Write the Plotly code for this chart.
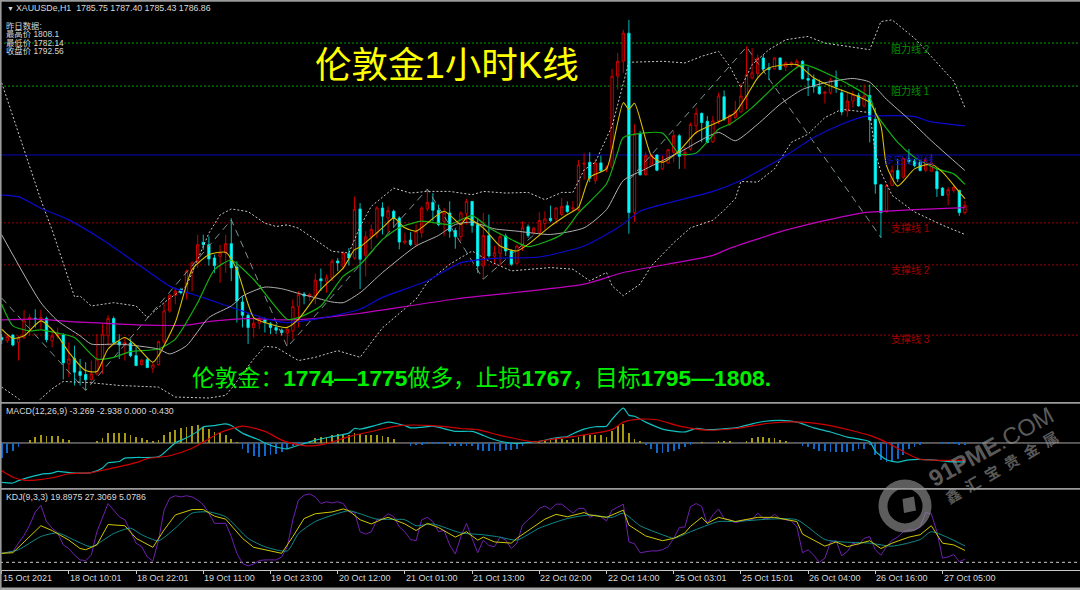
import plotly.graph_objects as go

# ---------- candles (one value per hourly bar) ----------
bar_index = list(range(173))
open_prices = [1719.1,1718.1,1719.8,1717.6,1719.1,1724.6,1724.9,1724.4,1724.8,1718.1,1719.5,1719.8,1711.1,1712.8,1708.8,1707.9,1706.4,1708.1,1712.6,1719.6,
 1724.8,1717.8,1716.8,1717.4,1713.6,1710.9,1712.4,1709.8,1710.9,1717.8,1727.1,1731.8,1733.6,1732.6,1738.8,1741.6,1747.8,1747.1,1743.1,1743.6,
 1744.6,1747.4,1740.4,1729.8,1725.8,1722.1,1723.4,1724.4,1723.2,1722.1,1721.3,1720.4,1721.1,1728.4,1732.2,1731.4,1731.6,1736.8,1736.1,1737.1,
 1742.2,1740.4,1744.4,1743.1,1757.9,1743.9,1749.5,1750.7,1758.2,1755.2,1757.2,1755.2,1747.7,1748.5,1747.2,1750.7,1757.9,1759.9,1757.5,1754.2,
 1756.7,1751.4,1749.5,1756.5,1760.2,1753.2,1740.7,1749.9,1743.7,1744.5,1749.7,1745.2,1741.5,1746.7,1752.5,1750.7,1750.7,1753.5,1755.1,1754.9,
 1756.2,1758.9,1757.9,1757.7,1771.4,1772.0,1766.5,1771.8,1769.8,1770.5,1798.0,1802.5,1811.0,1756.8,1780.5,1768.2,1771.2,1774.2,1770.0,1771.8,
 1775.0,1780.0,1774.0,1776.0,1783.0,1786.8,1784.4,1778.2,1784.5,1791.8,1783.5,1785.5,1787.2,1791.8,1797.5,1798.8,1803.5,1800.5,1800.2,1803.5,
 1800.8,1801.5,1801.2,1802.5,1797.3,1797.0,1794.8,1792.8,1793.0,1796.7,1793.0,1787.5,1790.5,1792.2,1789.0,1792.2,1785.0,1765.2,1757.2,1765.0,
 1769.5,1767.5,1773.0,1772.4,1772.0,1769.6,1769.3,1769.2,1764.2,1762.2,1763.5,1763.5,1756.8]
high_prices = [1720.1,1720.1,1720.1,1719.6,1727.4,1726.1,1727.6,1727.4,1725.4,1721.1,1722.1,1720.4,1717.6,1716.6,1712.6,1711.6,1712.1,1720.1,1723.1,1725.8,
 1725.4,1720.1,1719.1,1718.6,1716.6,1712.6,1713.1,1711.6,1718.1,1729.6,1732.4,1734.1,1734.1,1739.6,1742.1,1750.1,1750.1,1749.6,1744.1,1747.1,
 1750.1,1755.1,1742.1,1731.6,1726.4,1725.1,1725.6,1725.1,1723.8,1723.1,1721.8,1722.6,1730.6,1733.1,1732.8,1732.6,1738.4,1739.9,1738.1,1742.8,
 1743.1,1745.1,1746.1,1761.6,1759.7,1751.2,1753.2,1758.7,1759.9,1758.7,1757.7,1755.7,1750.7,1750.9,1753.2,1758.7,1763.9,1762.7,1759.2,1758.2,
 1760.2,1752.2,1757.2,1760.9,1760.2,1755.2,1756.7,1756.2,1746.7,1750.2,1750.5,1745.7,1747.2,1754.2,1753.2,1752.5,1756.9,1757.2,1758.9,1758.5,
 1761.2,1760.2,1760.2,1772.7,1774.7,1775.0,1773.0,1774.0,1771.0,1800.2,1805.0,1812.0,1815.0,1783.5,1781.5,1775.0,1774.5,1774.5,1774.0,1776.0,
 1781.5,1780.5,1776.5,1784.0,1788.5,1787.0,1786.0,1786.0,1793.0,1793.7,1786.5,1790.5,1795.8,1807.0,1806.5,1804.5,1804.5,1802.0,1803.7,1803.7,
 1802.5,1802.5,1803.2,1802.8,1800.8,1798.5,1797.0,1793.5,1797.5,1799.7,1794.0,1793.0,1793.5,1793.0,1795.5,1795.5,1788.5,1765.5,1765.5,1771.0,
 1773.0,1773.5,1776.0,1773.0,1772.5,1773.5,1774.5,1770.0,1764.5,1764.5,1765.0,1763.7,1760.4]
low_prices = [1717.1,1717.4,1716.4,1712.1,1718.6,1719.6,1722.1,1721.6,1717.6,1716.1,1718.6,1706.4,1707.1,1704.6,1704.6,1703.1,1705.1,1707.6,1708.1,1716.6,
 1717.1,1712.6,1712.1,1713.1,1710.4,1710.6,1709.8,1708.4,1710.6,1717.1,1726.6,1729.1,1732.1,1730.6,1733.1,1740.1,1745.6,1740.8,1738.6,1735.6,
 1738.6,1736.1,1723.6,1722.1,1717.1,1719.1,1721.6,1720.6,1720.1,1720.1,1719.6,1716.6,1718.6,1722.1,1729.1,1730.1,1729.1,1733.1,1732.6,1736.1,
 1739.1,1739.6,1740.8,1742.6,1733.7,1737.5,1745.7,1749.2,1750.2,1750.7,1752.2,1745.7,1747.2,1746.7,1746.7,1749.2,1757.2,1754.2,1752.7,1749.7,
 1749.2,1745.9,1748.2,1753.2,1750.7,1738.5,1736.9,1743.2,1741.2,1740.9,1743.7,1740.7,1741.2,1745.2,1749.2,1749.9,1750.2,1751.7,1753.9,1753.5,
 1755.7,1756.7,1757.2,1757.2,1766.7,1766.0,1765.5,1769.0,1769.0,1770.0,1794.0,1799.0,1750.4,1754.0,1768.0,1768.0,1771.0,1769.3,1769.7,1771.5,
 1772.0,1770.0,1770.0,1775.5,1780.5,1778.0,1777.7,1777.8,1783.5,1784.5,1783.0,1785.0,1787.0,1788.0,1797.0,1797.5,1799.5,1796.8,1800.0,1799.8,
 1799.5,1800.8,1800.5,1797.0,1792.0,1793.0,1792.4,1789.8,1792.5,1793.0,1786.2,1785.8,1788.5,1788.8,1788.5,1778.0,1762.5,1749.2,1756.8,1765.0,
 1766.0,1767.0,1771.5,1770.5,1769.2,1769.0,1769.2,1761.5,1761.8,1759.0,1762.8,1755.8,1756.2]
close_prices = [1718.4,1719.4,1716.8,1718.9,1724.1,1725.1,1724.7,1725.1,1718.4,1719.6,1720.1,1711.4,1712.6,1708.6,1707.6,1706.3,1708.1,1712.6,1720.1,1724.8,
 1717.6,1716.8,1717.6,1713.6,1710.6,1712.2,1710.0,1710.8,1717.8,1727.1,1731.8,1733.1,1732.6,1739.1,1741.6,1747.1,1747.1,1742.8,1740.8,1744.6,
 1747.4,1740.1,1730.1,1725.8,1722.1,1723.4,1724.6,1723.6,1722.1,1721.3,1720.6,1721.6,1728.4,1732.0,1731.6,1732.1,1736.4,1736.2,1737.1,1742.1,
 1741.6,1744.6,1743.1,1757.8,1742.7,1749.5,1751.7,1758.2,1755.7,1757.4,1755.0,1747.9,1748.2,1747.2,1751.2,1758.2,1759.9,1757.5,1753.2,1756.7,
 1751.2,1749.5,1756.7,1760.2,1752.9,1740.7,1749.9,1743.7,1744.7,1749.5,1745.2,1741.2,1746.7,1752.2,1749.9,1752.1,1754.4,1754.9,1754.4,1758.2,
 1758.7,1757.1,1758.2,1771.2,1771.7,1767.2,1771.8,1769.5,1770.5,1798.0,1802.5,1811.0,1756.8,1780.5,1768.2,1774.0,1774.2,1769.6,1772.2,1775.8,
 1780.0,1773.8,1775.0,1783.4,1786.8,1784.0,1778.0,1784.5,1792.0,1785.0,1786.2,1787.5,1792.0,1798.4,1799.0,1803.5,1800.2,1800.0,1803.5,1800.0,
 1802.0,1802.0,1802.5,1797.2,1796.8,1794.8,1792.7,1793.2,1796.8,1794.8,1787.2,1790.5,1792.5,1789.0,1792.0,1784.8,1765.4,1756.8,1765.0,1769.5,
 1767.0,1773.2,1772.2,1771.0,1769.5,1772.8,1771.8,1764.0,1762.0,1763.7,1764.5,1756.8,1759.0]

# ---------- moving averages and bands ----------
magenta_bars = [0,6,12,18,24,33,38,44,50,56,59,64,81,104,111,127,130,140,150,154,163,172]
magenta_vals = [1724.4,1724.6,1723.9,1723.4,1722.9,1722.8,1724.1,1724.8,1724.4,1724.8,1725.4,1726.4,1730.7,1735.2,1738.7,1743.9,1746,1751.5,1755.5,1756.8,1757.7,1758.3]
blue_bars = [0,3,7,12,18,24,30,36,42,48,51,56,64,68,76,82,88,96,104,110,114,119,127,132,140,145,150,154,156,163,166,172]
blue_vals = [1762.1,1761.6,1758.1,1754.6,1748.6,1741.6,1734.6,1731.1,1727.6,1724.4,1723.6,1724.6,1727.6,1731.2,1736.2,1741.7,1743,1743.4,1746.7,1752.2,1757.2,1759.7,1763.2,1766.5,1774,1779.5,1783.5,1785.8,1786,1785.8,1784.2,1783]
gray_bars = [0,7,10,14,16,21,28,30,33,37,41,43,47,50,53,56,59,61,64,68,74,78,81,84,88,92,98,104,108,111,115,121,128,131,135,139,143,147,152,155,158,162,166,172]
gray_vals = [1750.1,1729.6,1724.1,1719.6,1717.1,1717.1,1715.6,1714.1,1716.6,1725.1,1728.6,1731.6,1734.3,1733.8,1732.4,1731.1,1729.8,1729.6,1732.6,1738.7,1746.7,1749.9,1753.2,1753.9,1751.9,1751.2,1750.2,1752.2,1757.7,1766.5,1770,1775,1781,1778.5,1783.5,1789.5,1794,1796,1797.3,1796.2,1791,1785,1778.5,1769.5]
green_bars = [0,2,5,7,10,13,17,20,23,28,31,35,38,41,45,51,53,57,61,64,68,71,75,80,84,87,91,94,100,103,108,110,111,118,121,124,128,130,134,139,143,149,155,156,160,163,167,170,172]
green_vals = [1729.1,1722.6,1721.1,1721.4,1720.4,1719.1,1712.6,1713.1,1714.8,1715.6,1718.6,1729.6,1739.6,1742.4,1736.6,1724.6,1725.1,1728.6,1737.6,1741.1,1748.7,1752.2,1754.2,1753.2,1755.9,1752.2,1748.7,1746.5,1750.2,1756.7,1765.5,1775,1779.5,1780.8,1774.5,1774.8,1782,1783.5,1788.5,1796.5,1801.5,1797.5,1791.5,1787,1778,1773.5,1770,1768.5,1765.3]
yellow_bars = [0,2,4,7,10,12,15,17,19,22,24,27,28,31,34,37,40,42,45,47,51,53,57,61,63,64,68,70,72,74,79,82,83,86,89,92,94,98,101,103,105,108,109,111,112,113,116,118,121,124,129,131,133,135,137,142,145,148,152,155,157,158,160,163,166,168,171,172]
yellow_vals = [1721.6,1718.8,1719.6,1724.1,1719.6,1714.6,1709.1,1708.8,1715.6,1719.1,1716.6,1711.6,1713.6,1723.6,1739.6,1744.1,1744.8,1739.6,1725.1,1723.6,1722.1,1724.6,1733.6,1740.1,1745.6,1746.4,1752.2,1755.2,1752.2,1751.2,1757.2,1753.2,1755.2,1752.2,1746.7,1745.2,1747.2,1752.7,1756.2,1758.4,1767.5,1770,1776,1790,1788,1789.8,1774,1772,1775.5,1781,1785,1787,1792,1797.5,1800.5,1801.5,1797.5,1795,1792.5,1790,1783,1771,1764.8,1770,1771.5,1769,1763,1761]
upper_bars = [0,7,9,11,13,14,16,20,24,26,29,33,37,39,41,44,47,49,51,53,59,62,64,66,70,73,76,80,84,86,90,94,97,100,102,104,106,109,112,118,122,125,128,130,132,134,137,140,144,147,151,155,157,159,163,167,170,172]
upper_vals = [1796,1760.6,1751.6,1741.6,1731.4,1731.6,1728.6,1729.6,1728.6,1725.1,1729.6,1734.6,1750.6,1756.1,1757.9,1757.1,1753.6,1752.6,1753.1,1752.1,1745.1,1744.6,1752.6,1758.7,1764.2,1762.7,1763.2,1763.2,1762.2,1763.2,1762.7,1762.9,1760.7,1762.9,1762.9,1769.7,1772,1783,1802.2,1802.5,1802,1804,1805.5,1801,1794.5,1801.5,1806,1809,1810,1808,1807,1806,1814.5,1815,1809.5,1802,1796.5,1788.5]
lower_bars = [0,3,5,7,9,11,16,21,28,31,37,40,41,45,47,49,53,56,60,64,68,74,76,80,84,87,91,98,102,105,108,109,111,114,116,120,123,127,129,131,132,135,138,141,144,147,150,155,156,157,159,163,168,172]
lower_vals = [1704.1,1700.6,1697,1700.6,1703.6,1705.8,1705.4,1704.6,1704.1,1701.1,1700.8,1701.6,1703.6,1712.6,1716.4,1716.1,1712.1,1713.1,1715.1,1713.1,1722,1730.7,1735.7,1741.2,1745.2,1742.2,1739.2,1740.2,1739.7,1736.2,1738.7,1734.7,1731.7,1735.2,1740.7,1747.7,1752.2,1754.5,1757.5,1761,1766.2,1766,1770,1778,1780.5,1785.5,1788,1787,1775,1769,1762,1757,1753,1750.2]
zigzag_bars = [0,15,41,51,76,86,95,None,112,133,157]
zigzag_vals = [1731,1703.1,1754.6,1716.2,1763.9,1736.7,1750,None,1766.6,1806.8,1749.3]

# ---------- horizontal levels ----------
resistance_levels = [1808, 1795]
pivot_level = 1774.2
support_levels = [1753.7, 1741, 1719.8]
resistance_labels = ["阻力线 2", "阻力线 1"]
pivot_label = "多空分界线"
support_labels = ["支撑线 1", "支撑线 2", "支撑线 3"]

# ---------- MACD ----------
macd_hist = [-2.6,-1.8,-1.3,-0.7,0,0.5,1.0,1.3,1.2,1.2,1.2,0.7,0.5,0,0,0,0,0.2,0.9,1.7,
 1.8,1.8,1.8,1.4,1.1,0.8,0.5,0.3,0.5,1.3,1.9,2.3,2.5,2.8,3.0,3.1,2.8,2.4,1.9,1.7,
 1.3,0.7,0.1,-1.1,-1.8,-2.2,-2.4,-2.3,-2.0,-1.9,-1.6,-1.1,-0.5,-0.3,-0.2,0.4,0.8,1.0,1.1,1.3,
 1.5,1.6,1.3,1.8,1.5,1.3,1.3,1.3,1.2,1.0,0.7,0,0,-0.5,-0.4,-0.3,-0.1,-0.05,-0.2,-0.2,
 -0.5,-0.6,-0.6,-0.5,-0.6,-1.2,-1.3,-1.3,-1.4,-1.3,-1.2,-1.2,-1.0,-0.5,0,0,0.3,0.5,0.5,0.9,
 0.7,0.6,0.7,1.1,1.4,1.4,1.3,1.3,1.0,2.1,2.9,3.3,1.7,0.7,0.2,-0.4,-1.1,-1.7,-1.8,-1.6,
 -1.3,-1.0,-0.7,-0.3,0,0.1,0,0,0.3,0.2,0.2,0,0,0.2,0.8,1.1,1.0,0.9,0.9,0.5,
 0.2,0,0,-0.5,-0.7,-1.0,-1.3,-1.4,-1.5,-1.5,-1.6,-1.6,-1.4,-1.1,-1.1,-0.3,-2.0,-2.9,-3.3,-3.2,
 -2.8,-2.0,-1.1,-0.7,-0.3,0,0,0,-0.1,-0.1,-0.2,-0.3,-0.43]
macd_bars = [0,2,3,5,7,9,10,12,14,16,18,19,21,22,24,28,29,31,33,35,36,38,40,41,43,46,47,49,51,52,54,56,59,62,63,64,67,69,72,73,75,77,81,84,86,87,89,92,94,96,99,101,102,104,106,108,109,111,112,113,115,118,122,124,126,131,134,136,139,142,145,148,151,155,156,158,160,162,166,169,172]
macd_vals = [-6.8,-6.9,-6.5,-5.9,-5.4,-5.2,-4.9,-5.1,-5.2,-5.1,-4.3,-3.4,-3.2,-2.6,-2.5,-2.4,-1.7,0,0.9,2.0,2.8,3.0,3.3,3.0,1.7,0.5,0,-0.7,-1.0,-0.7,-0.1,0.5,1.1,1.7,2.5,2.4,3.1,3.6,3.0,2.6,2.7,2.9,2.0,2.0,1.3,0.9,0.3,-0.1,0.1,0.3,0.9,1.1,1.6,2.4,2.8,2.9,4.1,6.0,4.8,4.6,3.6,2.4,1.9,2.5,2.3,2.6,3.3,3.7,3.9,3.6,2.6,1.9,1.0,0.2,-1.4,-2.9,-3.3,-2.9,-2.9,-3.2,-3.27]
signal_bars = [0,2,4,6,9,12,16,19,24,26,30,34,37,39,43,47,50,52,55,58,62,67,71,77,82,85,89,91,95,98,102,109,111,114,117,121,126,131,137,143,148,155,158,162,164,169,172]
signal_vals = [-4.8,-5.9,-6.4,-6.4,-6.0,-5.3,-5.1,-4.5,-3.4,-2.7,-2.2,-0.9,0.7,1.8,2.9,2.0,0.5,-0.1,-0.5,-0.1,1.1,2.2,3.0,3.0,2.5,2.3,1.3,0.9,0.2,0.6,1.1,2.3,3.6,4.1,4.0,2.9,2.2,2.5,3.4,3.6,3.0,1.3,0.1,-2.0,-2.8,-3.0,-2.94]

# ---------- KDJ ----------
j_vals = [15,16,18,32,45,62,84,95,68,57,49,29,23,12,4,3,12,51,76,98,87,76,71,51,32,26,9,2,37,87,107,111,109,111,109,104,96,82,65,65,
 65,43,15,-2,-6,-3,3,4,4,4,9,26,71,104,112,114,109,98,101,99,101,98,84,84,51,47,51,71,73,81,
 76,59,51,38,36,71,75,68,51,53,29,14,43,65,40,16,37,28,26,42,37,23,32,62,71,79,90,94,88,97,
 97,90,82,90,90,75,79,76,69,87,92,97,34,31,16,18,19,19,21,26,40,58,59,93,98,93,64,79,89,73,
 71,66,69,71,71,82,73,73,80,73,71,69,59,16,21,12,0,7,34,36,11,18,32,29,40,43,21,12,26,37,
 42,51,54,54,59,83,81,51,7,9,13,1,5.08]
k_bars = [0,2,4,5,7,9,10,12,14,15,17,19,22,24,27,29,31,34,36,38,40,43,45,48,50,52,54,56,59,61,62,64,66,68,69,72,74,76,78,81,83,85,86,88,91,92,97,99,101,104,105,108,111,112,115,118,120,122,123,125,126,128,131,135,138,142,143,145,147,149,151,153,155,157,159,162,164,166,168,170,172]
k_vals = [15,16,34,43,61,53,48,37,23,21,29,63,61,40,25,54,79,88,88,77,72,40,25,19,15,43,73,81,84,89,86,71,64,72,75,64,53,65,58,42,51,37,42,34,32,40,72,80,76,83,79,75,87,62,44,36,40,49,60,75,65,75,68,75,75,68,47,37,27,34,26,31,36,23,32,42,46,61,32,29,19.9]
d_bars = [0,3,7,10,13,16,20,23,25,28,31,34,37,40,44,47,51,53,56,62,64,67,72,74,77,82,86,89,92,96,101,105,109,111,114,118,120,123,128,131,137,142,147,150,155,159,164,166,172]
d_vals = [15,21,43,49,37,26,48,57,46,36,57,82,84,76,40,26,19,48,68,86,81,72,71,61,64,49,46,42,37,57,73,79,75,82,61,46,40,51,68,68,72,71,38,34,32,27,38,51,27.3]
kdj_level = 0

# ---------- text ----------
tick_bars = [0,12,24,36,48,60,72,84,96,108,120,132,144,156,168]
tick_labels = ["15 Oct 2021","18 Oct 10:01","18 Oct 22:01","19 Oct 11:00","19 Oct 23:00","20 Oct 12:00","21 Oct 01:00","21 Oct 13:00",
               "22 Oct 02:00","22 Oct 14:00","25 Oct 03:01","25 Oct 15:01","26 Oct 04:00","26 Oct 16:00","27 Oct 05:00"]
title_text = "伦敦金1小时K线"
plan_text = "伦敦金：<b>1774—1775</b>做多，止损<b>1767</b>，目标<b>1795—1808.</b>"
header_text = "XAUUSDe,H1  1785.75 1787.40 1785.43 1786.86"
prev_day_lines = ["昨日数据:", "最高价 1808.1", "最低价 1782.14", "收盘价 1792.56"]
macd_text = "MACD(12,26,9) -3.269 -2.938 0.000 -0.430"
kdj_text = "KDJ(9,3,3) 19.8975 27.3069 5.0786"
brand_text = "<b>91PME</b>.COM"
brand_cn_text = "<b>鑫\u2002汇\u2002宝\u2002贵\u2002金\u2002属</b>"

W, H = 1080, 590
def px(x): return x / W
def py(y): return 1 - y / H
UI_FONT = "Liberation Sans, Noto Sans CJK SC"
CJK_FONT = "Liberation Sans, Noto Sans CJK SC"
LIGHT = "#d8d8d8"
WATERMARK = "rgba(150,150,150,0.62)"

fig = go.Figure()
fig.add_trace(go.Candlestick(
    x=bar_index, open=open_prices, high=high_prices, low=low_prices, close=close_prices,
    increasing=dict(line=dict(color="#c80000", width=1), fillcolor="#000000"),
    decreasing=dict(line=dict(color="#00e8e8", width=0.8), fillcolor="#00ffff"),
    whiskerwidth=0, xaxis="x", yaxis="y", showlegend=False))

def line(xs, ys, color, width=1, dash="solid", shape="spline", xa="x", ya="y"):
    fig.add_trace(go.Scatter(x=xs, y=ys, mode="lines", xaxis=xa, yaxis=ya, showlegend=False,
                             connectgaps=False, hoverinfo="skip",
                             line=dict(color=color, width=width, dash=dash, shape=shape,
                                       **({"smoothing": 0.6} if shape == "spline" else {}))))

line(zigzag_bars, zigzag_vals, "#7f9292", 1, "7px,5px", "linear")
line(upper_bars, upper_vals, "#c8c8c8", 1, "2px,2px", "linear")
line(lower_bars, lower_vals, "#c8c8c8", 1, "2px,2px", "linear")
line(magenta_bars, magenta_vals, "#c000c0", 1.2)
line(blue_bars, blue_vals, "#0a0ad0", 1.2)
line(gray_bars, gray_vals, "#b0b0b0", 1)
line(green_bars, green_vals, "#14b014", 1.2)
line(yellow_bars, yellow_vals, "#d8c000", 1.1)

fig.add_trace(go.Bar(x=bar_index, y=macd_hist, width=0.16, xaxis="x2", yaxis="y2", showlegend=False,
                     hoverinfo="skip",
                     marker=dict(color=["#a89a10" if v >= 0 else "#1068c8" for v in macd_hist], line=dict(width=0))))
line(macd_bars, macd_vals, "#10c0c0", 1.2, xa="x2", ya="y2")
line(signal_bars, signal_vals, "#d00000", 1.2, xa="x2", ya="y2")

line(bar_index, j_vals, "#7020b0", 1, shape="linear", xa="x3", ya="y3")
line(d_bars, d_vals, "#108a8a", 1, xa="x3", ya="y3")
line(k_bars, k_vals, "#d0c800", 1, shape="linear", xa="x3", ya="y3")

shapes = []
def hline(level, color, dash, ya="y", width=1):
    shapes.append(dict(type="line", xref="paper", x0=0, x1=1, yref=ya, y0=level, y1=level,
                       line=dict(color=color, width=width, dash=dash), layer="below"))
for lv in resistance_levels:
    hline(lv, "#00a000", "2px,2px")
hline(pivot_level, "#0808b8", "solid")
for lv in support_levels:
    hline(lv, "#a00000", "2px,2px")
hline(0, "#a8a8a8", "solid", "y2")
hline(kdj_level, "#c8c8c8", "3px,3px", "y3")

def frame_h(y, h=1.5, color="#9a9a9a"):
    shapes.append(dict(type="rect", xref="paper", yref="paper", x0=0, x1=1, y0=py(y + h), y1=py(y),
                       fillcolor=color, line=dict(width=0), layer="above"))
for fy in (0, 402, 488):
    frame_h(fy, 1.8)
frame_h(570, 1, "#c8c8c8")
frame_h(587.5, 2.5, "#a8a8a8")
shapes.append(dict(type="rect", xref="paper", yref="paper", x0=0, x1=px(1.6), y0=0, y1=1,
                   fillcolor="#9a9a9a", line=dict(width=0), layer="above"))

# watermark emblem: ring drawn as a thick circle, coin square tilted
shapes.append(dict(type="circle", xref="paper", yref="paper", x0=px(883), x1=px(927), y0=py(528), y1=py(484),
                   line=dict(color=WATERMARK, width=9), layer="above"))
shapes.append(dict(type="path", xref="paper", yref="paper",
                   path=(f"M {px(902.5)} {py(499)} L {px(914)} {py(496.5)} L {px(916)} {py(510.5)} "
                         f"L {px(904)} {py(513)} Z"),
                   fillcolor=WATERMARK, line=dict(width=0), layer="above"))

ann = []
def label(x, y, text, size, color, family=UI_FONT, anchor="left", angle=0):
    ann.append(dict(xref="paper", yref="paper", x=px(x), y=py(y), text=text, showarrow=False,
                    xanchor=anchor, yanchor="middle", textangle=angle, align="left",
                    font=dict(size=size, color=color, family=family)))

label(313, 65, title_text, 36.5, "#ffff00", CJK_FONT)
label(190, 378, plan_text, 22.8, "#00ee00", CJK_FONT)
label(5, 8, "▼", 7, LIGHT)
label(14, 8, header_text, 8.8, LIGHT)
for row, s in zip((26, 34, 42.5, 51), prev_day_lines):
    label(4, row, s, 8.4, LIGHT)
label(4, 411, macd_text, 8.8, LIGHT)
label(4, 497, kdj_text, 8.8, LIGHT)
for row, s in zip((49, 91), resistance_labels):
    label(889, row, s, 10, "#009000", CJK_FONT)
label(882, 160, pivot_label, 10, "#1010a0", CJK_FONT)
for row, s in zip((228, 270, 339), support_labels):
    label(889, row, s, 10, "#a00000", CJK_FONT)
for b, s in zip(tick_bars, tick_labels):
    ann.append(dict(xref="x3", yref="paper", x=b, y=py(578), text=s, showarrow=False, xanchor="left",
                    yanchor="middle", xshift=-1, font=dict(size=9, color=LIGHT, family=UI_FONT)))
label(991, 447, brand_text, 23.5, WATERMARK, "Liberation Sans", "center", -29)
label(1002, 467, brand_cn_text, 15, WATERMARK, CJK_FONT, "center", -30)

x_range = [-0.3, 192.55]
def xaxis(anchor, ticks=False):
    return dict(range=x_range, domain=[0, 1], anchor=anchor, showgrid=False, zeroline=False, showline=False,
                fixedrange=True, rangeslider=dict(visible=False),
                tickmode="array", tickvals=tick_bars if ticks else [], ticktext=[""] * len(tick_bars) if ticks else [],
                ticks="outside" if ticks else "", ticklen=3, tickcolor="#c8c8c8", tickwidth=1, showticklabels=False)
def yaxis(anchor, rng, top, bottom):
    return dict(range=rng, domain=[py(bottom), py(top)], anchor=anchor, visible=False, showgrid=False,
                zeroline=False, fixedrange=True)

fig.update_layout(
    width=W, height=H, margin=dict(l=0, r=0, t=0, b=0), autosize=False,
    paper_bgcolor="#000000", plot_bgcolor="#000000", showlegend=False,
    boxgap=0.4, bargap=0, hovermode=False,
    xaxis=xaxis("y"), xaxis2=xaxis("y2"), xaxis3=xaxis("y3", True),
    yaxis=yaxis("x", [1699.9, 1820.1], 3, 401),
    yaxis2=yaxis("x2", [-7.59, 6.72], 404, 487),
    yaxis3=yaxis("x3", [-12.8, 120.6], 490, 570),
    shapes=shapes, annotations=ann,
)
fig.write_html("out.html", config=dict(displayModeBar=False),
               post_script="document.body.style.margin='0';document.body.style.background='#000';")
